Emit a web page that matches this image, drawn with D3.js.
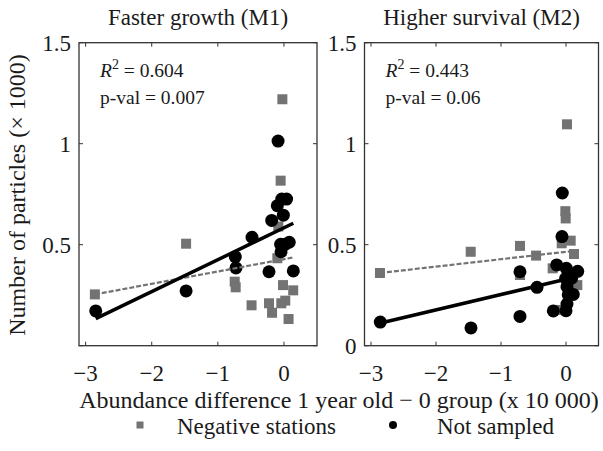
<!DOCTYPE html>
<html>
<head>
<meta charset="utf-8">
<script src="https://cdn.jsdelivr.net/npm/d3@7"></script>
<style>
  body { margin: 0; background: #fff; }
  text { font-family: "Liberation Serif", "Times New Roman", serif; fill: #1a1a1a; }
</style>
</head>
<body>
<div id="chart"></div>
<script>
// data
var panelTitles = ["Faster growth (M1)", "Higher survival (M2)"];
var xTicks = [-3, -2, -1, 0];
var yTicks = [0, 0.5, 1, 1.5];
var yTickLabelsM1 = ["", "0.5", "1", "1.5"];
var yTickLabelsM2 = ["0", "0.5", "1", "1.5"];
var statsR2 = ["0.604", "0.443"];
var statsP = ["0.007", "0.06"];

// M1 panel
var m1Negative = [[-0.024,1.22],[-0.05,0.817],[-1.48,0.505],[-2.86,0.254],[-0.745,0.317],[-0.73,0.289],
  [-0.49,0.20],[-0.226,0.21],[-0.18,0.163],[-0.04,0.21],[0.02,0.223],[-0.014,0.30],[0.14,0.274],
  [0.07,0.132],[-0.1,0.433],[-0.085,0.59]];
var m1NotSampled = [[-2.847,0.172],[-1.48,0.271],[-0.736,0.44],[-0.726,0.385],[-0.483,0.537],[-0.226,0.366],
  [-0.185,0.62],[-0.089,1.013],[-0.1,0.693],[-0.033,0.726],[0.04,0.726],[-0.009,0.646],[-0.05,0.502],
  [0.017,0.502],[0.08,0.512],[-0.044,0.465],[0.142,0.37]];
var m1FitNegative = [[-2.86,0.254],[0.127,0.436]];
var m1FitNotSampled = [[-2.847,0.134],[0.142,0.606]];

// M2 panel
var m2Negative = [[0.015,1.096],[-0.01,0.666],[-0.005,0.63],[-2.862,0.36],[-1.466,0.465],[-0.708,0.494],
  [-0.708,0.35],[-0.46,0.446],[-0.205,0.383],[-0.066,0.507],[0.072,0.52],[0.123,0.454],[0.174,0.30],
  [-0.128,0.177]];
var m2NotSampled = [[-2.857,0.117],[-1.462,0.088],[-0.708,0.366],[-0.708,0.145],[-0.446,0.289],[-0.195,0.172],
  [-0.143,0.40],[-0.057,0.756],[-0.062,0.54],[0.005,0.383],[-0.005,0.334],[0.015,0.292],[0.035,0.251],
  [0.112,0.254],[0.015,0.206],[0.0,0.173],[0.18,0.368],[0.087,0.334]];
var m2FitNegative = [[-2.862,0.36],[0.112,0.469]];
var m2FitNotSampled = [[-2.835,0.114],[0.062,0.334]];

var panels = [
  {title: panelTitles[0], left: 79, right: 317, neg: m1Negative, ns: m1NotSampled, fitNeg: m1FitNegative, fitNs: m1FitNotSampled, r2: statsR2[0], p: statsP[0], yLabels: yTickLabelsM1},
  {title: panelTitles[1], left: 364.5, right: 598.5, neg: m2Negative, ns: m2NotSampled, fitNeg: m2FitNegative, fitNs: m2FitNotSampled, r2: statsR2[1], p: statsP[1], yLabels: yTickLabelsM2}
];

var grey = "rgb(115,115,115)";
var plotTop = 42.7, plotBottom = 345.7;

var svg = d3.select("#chart")
  .append("svg")
  .attr("width", 603)
  .attr("height", 451);

var yScale = d3.scaleLinear().domain([0, 1.5]).range([plotBottom, plotTop]);
var fmtX = function(d) { return d < 0 ? "\u2212" + Math.abs(d) : String(d); };

panels.forEach(function(p) {
  var xScale = d3.scaleLinear().domain([-3.1, 0.5]).range([p.left, p.right]);
  var g = svg.append("g");

  // frame
  g.append("rect")
    .attr("x", p.left).attr("y", plotTop)
    .attr("width", p.right - p.left).attr("height", plotBottom - plotTop)
    .style("fill", "none").style("stroke", "#333").style("stroke-width", 1.3);

  // inward ticks
  xTicks.forEach(function(t) {
    g.append("line").attr("x1", xScale(t)).attr("x2", xScale(t)).attr("y1", plotBottom).attr("y2", plotBottom - 4)
      .style("stroke", "#333").style("stroke-width", 1);
    g.append("line").attr("x1", xScale(t)).attr("x2", xScale(t)).attr("y1", plotTop).attr("y2", plotTop + 4)
      .style("stroke", "#333").style("stroke-width", 1);
    g.append("text").attr("x", xScale(t)).attr("y", 381)
      .attr("text-anchor", "middle").style("font-size", "23px").text(fmtX(t));
  });
  yTicks.forEach(function(t, i) {
    g.append("line").attr("x1", p.left).attr("x2", p.left + 4).attr("y1", yScale(t)).attr("y2", yScale(t))
      .style("stroke", "#333").style("stroke-width", 1);
    g.append("line").attr("x1", p.right).attr("x2", p.right - 4).attr("y1", yScale(t)).attr("y2", yScale(t))
      .style("stroke", "#333").style("stroke-width", 1);
    g.append("text").attr("x", p.left - 8).attr("y", yScale(t) + 8)
      .attr("text-anchor", "end").style("font-size", "23px").text(p.yLabels[i]);
  });

  // title
  svg.append("text").attr("x", (p.left + p.right) / 2).attr("y", 25)
    .attr("text-anchor", "middle").style("font-size", "23px").text(p.title);

  // stats
  var st = g.append("text").attr("x", p.left + 21).attr("y", 77).style("font-size", "19.5px");
  st.append("tspan").style("font-style", "italic").text("R");
  st.append("tspan").attr("dy", -8).style("font-size", "14px").text("2");
  st.append("tspan").attr("dy", 8).text(" = " + p.r2);
  g.append("text").attr("x", p.left + 21).attr("y", 104).style("font-size", "19.5px").text("p-val = " + p.p);

  // points
  g.selectAll(".sq").data(p.neg).enter().append("rect")
    .attr("class", "sq")
    .attr("x", function(d) { return xScale(d[0]) - 5; })
    .attr("y", function(d) { return yScale(d[1]) - 5; })
    .attr("width", 10).attr("height", 10)
    .style("fill", grey);
  g.selectAll(".dot").data(p.ns).enter().append("circle")
    .attr("class", "dot")
    .attr("cx", function(d) { return xScale(d[0]); })
    .attr("cy", function(d) { return yScale(d[1]); })
    .attr("r", 6.5)
    .style("fill", "#000");

  var line = d3.line()
    .x(function(d) { return xScale(d[0]); })
    .y(function(d) { return yScale(d[1]); });

  g.append("path").datum(p.fitNeg).attr("d", line)
    .style("fill", "none").style("stroke", grey).style("stroke-width", 2.2)
    .style("stroke-dasharray", "5,2");
  g.append("path").datum(p.fitNs).attr("d", line)
    .style("fill", "none").style("stroke", "#000").style("stroke-width", 3.5);
});

// Y label
svg.append("text")
  .attr("text-anchor", "middle")
  .attr("transform", "translate(25,195)rotate(-90)")
  .style("font-size", "24px")
  .text("Number of particles (\u00d7 1000)");

// X label
svg.append("text")
  .attr("x", 339).attr("y", 408)
  .attr("text-anchor", "middle")
  .style("font-size", "24px")
  .text("Abundance difference 1 year old \u2212 0 group (x 10 000)");

// legend
svg.append("rect").attr("x", 136.5).attr("y", 421.5).attr("width", 7).attr("height", 7).style("fill", grey);
svg.append("text").attr("x", 177).attr("y", 434).style("font-size", "23px").text("Negative stations");
svg.append("circle").attr("cx", 393).attr("cy", 425).attr("r", 4).style("fill", "#000");
svg.append("text").attr("x", 437).attr("y", 434).style("font-size", "23px").text("Not sampled");
</script>
</body>
</html>
